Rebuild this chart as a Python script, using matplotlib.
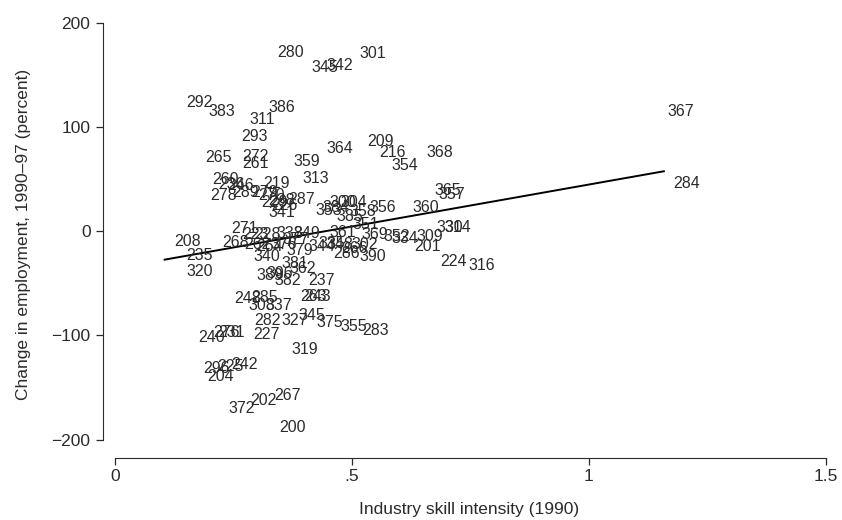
import numpy as np
import matplotlib
matplotlib.use('Agg')
import matplotlib.pyplot as plt

plt.rcParams['font.family'] = ['Liberation Sans', 'DejaVu Sans']

# industry codes, skill intensity (1990), employment change 1990-97 (%)
codes = ['292', '383', '386', '311', '293', '280', '345', '342', '301', '367',
         '284', '265', '272', '261', '359', '364', '209', '216', '354', '368',
         '313', '219', '260', '236', '246', '278', '289', '279', '270', '229',
         '238', '226', '287', '341', '300', '304', '353', '384', '356', '385',
         '358', '360', '365', '357', '351', '361', '330', '314', '309', '352',
         '334', '369', '201', '224', '316', '208', '235', '320', '271', '268',
         '223', '228', '338', '349', '262', '264', '376', '377', '340', '379',
         '344', '335', '348', '302', '286', '390', '266', '381', '362', '389',
         '396', '382', '237', '263', '243', '248', '285', '308', '337', '282',
         '327', '345', '375', '355', '283', '240', '276', '231', '227', '319',
         '296', '225', '242', '204', '372', '202', '267', '200']
skill = [0.131, 0.177, 0.304, 0.264, 0.247, 0.321, 0.395, 0.426, 0.496, 1.146,
         1.158, 0.171, 0.249, 0.249, 0.357, 0.426, 0.511, 0.538, 0.563, 0.637,
         0.376, 0.293, 0.184, 0.198, 0.217, 0.181, 0.228, 0.268, 0.283, 0.289,
         0.304, 0.310, 0.346, 0.304, 0.432, 0.456, 0.403, 0.418, 0.517, 0.447,
         0.475, 0.608, 0.654, 0.662, 0.481, 0.432, 0.658, 0.675, 0.616, 0.546,
         0.563, 0.500, 0.612, 0.665, 0.726, 0.105, 0.131, 0.131, 0.226, 0.207,
         0.249, 0.274, 0.321, 0.357, 0.253, 0.278, 0.308, 0.333, 0.272, 0.342,
         0.388, 0.409, 0.426, 0.479, 0.441, 0.496, 0.458, 0.331, 0.348, 0.278,
         0.300, 0.316, 0.388, 0.371, 0.379, 0.232, 0.268, 0.262, 0.297, 0.274,
         0.331, 0.367, 0.405, 0.456, 0.502, 0.156, 0.186, 0.198, 0.272, 0.352,
         0.165, 0.196, 0.226, 0.175, 0.219, 0.266, 0.316, 0.327]
emp_change = [122.8, 115.1, 118.9, 107.4, 91.1, 171.7, 156.4, 158.3, 170.7, 115.1,
              46.0, 71.0, 71.9, 65.2, 67.1, 79.6, 86.3, 75.8, 62.4, 75.8,
              50.8, 46.0, 49.9, 45.1, 44.1, 33.6, 36.5, 36.5, 34.5, 27.8,
              29.7, 24.9, 30.7, 18.2, 27.8, 27.8, 20.1, 23.0, 23.0, 14.4,
              19.2, 23.0, 39.3, 35.5, 5.8, -1.0, 3.8, 3.8, -4.8, -4.8,
              -6.7, -3.8, -15.3, -28.8, -32.6, -9.6, -23.0, -38.4, 2.9, -10.6,
              -3.8, -2.9, -1.9, -1.9, -13.4, -14.4, -12.5, -8.6, -24.9, -18.2,
              -14.4, -11.5, -13.4, -12.5, -21.1, -24.0, -16.3, -30.7, -35.5, -42.2,
              -41.2, -47.0, -47.0, -62.4, -62.4, -64.3, -63.3, -71.0, -71.0, -85.4,
              -85.4, -80.6, -88.2, -91.1, -95.0, -101.7, -96.9, -97.8, -98.8, -114.1,
              -131.4, -129.5, -127.6, -140.0, -169.8, -162.1, -157.3, -188.0]

# fitted line
fit_slope = 80.5
fit_intercept = -35.9

fig = plt.figure(figsize=(8.42, 5.2), dpi=100)
ax = fig.add_axes([103 / 842, 1 - 458 / 520, (835 - 103) / 842, (458 - 10) / 520])

for c, xv, yv in zip(codes, skill, emp_change):
    ax.annotate(c, (xv, yv), xytext=(7, 0), textcoords='offset points',
                ha='left', va='center', fontsize=11.5, color='#2b2b2b')

xs = np.array([min(skill), max(skill)])
ax.plot(xs, fit_intercept + fit_slope * xs, color='black', lw=1.4)

ax.set_xlim(-0.025, 1.519)
ax.set_ylim(-217.7, 212)
ax.set_xticks([0, 0.5, 1, 1.5])
ax.set_xticklabels(['0', '.5', '1', '1.5'])
ax.set_yticks([-200, -100, 0, 100, 200])

for s in ['top', 'right']:
    ax.spines[s].set_visible(False)
ax.spines['left'].set_bounds(-200, 200)
ax.spines['bottom'].set_bounds(0, 1.5)
ax.spines['left'].set_color('#2b2b2b')
ax.spines['bottom'].set_color('#2b2b2b')
ax.tick_params(axis='both', labelsize=12.5, colors='#2b2b2b', length=5, width=0.9)
ax.tick_params(axis='x', pad=3)
ax.tick_params(axis='y', pad=4)

ax.set_xlabel('Industry skill intensity (1990)', fontsize=12.5, color='#2b2b2b', labelpad=13)
ax.set_ylabel('Change in employment, 1990\u201397 (percent)', fontsize=12.5,
              color='#2b2b2b', labelpad=15)

fig.savefig('out.png', dpi=100)
